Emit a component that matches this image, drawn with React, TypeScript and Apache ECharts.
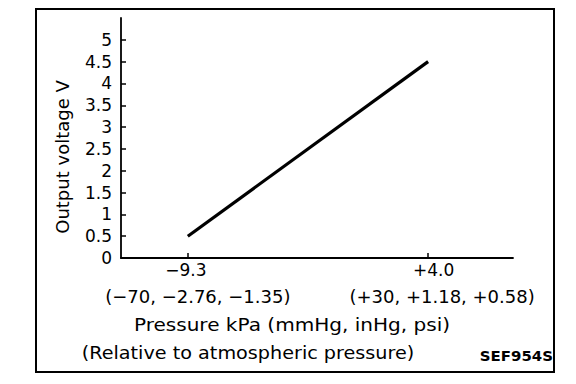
import React, { useEffect, useRef } from "react";
import * as echarts from "echarts";

const yTickValues = [0, 0.5, 1, 1.5, 2, 2.5, 3, 3.5, 4, 4.5, 5];
const xTickValues = [-9.3, 4.0];
const xTickMain = ["−9.3", "+4.0"];
const xTickSub = ["(−70, −2.76, −1.35)", "(+30, +1.18, +0.58)"];
const pressureKPa = [-9.3, 4.0];
const outputVoltage = [0.5, 4.5];
const yAxisTitle = "Output voltage V";
const xAxisTitle = "Pressure kPa (mmHg, inHg, psi)";
const xAxisNote = "(Relative to atmospheric pressure)";
const figureCode = "SEF954S";

const FONT = "DejaVu Sans";

export default function App() {
  const ref = useRef<HTMLDivElement>(null);
  useEffect(() => {
    if (!ref.current) return;
    const chart = echarts.init(ref.current, undefined, { renderer: "svg" });
    const lineData = pressureKPa.map((x, i) => [x, outputVoltage[i]]);
    chart.setOption({
      animation: false,
      backgroundColor: "#ffffff",
      textStyle: { fontFamily: FONT, color: "#000" },
      grid: { left: 121, right: 63, top: 18, bottom: 126, containLabel: false },
      xAxis: {
        type: "value",
        min: -13,
        max: 8.7,
        splitLine: { show: false },
        axisLine: { show: true, onZero: false, lineStyle: { color: "#000", width: 1.8 } },
        axisTick: {
          show: true,
          inside: true,
          length: 5,
          customValues: xTickValues,
          lineStyle: { color: "#000", width: 1.5 },
        },
        axisLabel: {
          show: true,
          customValues: xTickValues,
          margin: 2,
          color: "#000",
          fontFamily: FONT,
          fontSize: 17,
          formatter: (v: number) => {
            const i = xTickValues.findIndex((t) => Math.abs(t - v) < 1e-6);
            if (i < 0) return "";
            return `{a${i}|${xTickMain[i]}}\n{b${i}|${xTickSub[i]}}`;
          },
          rich: {
            a0: { fontFamily: FONT, fontSize: 17, color: "#000", lineHeight: 20, padding: [0, 4, 0, 0] },
            b0: { fontFamily: FONT, fontSize: 18, color: "#000", lineHeight: 32, padding: [0, 0, 0, 20] },
            a1: { fontFamily: FONT, fontSize: 17, color: "#000", lineHeight: 20, padding: [0, 0, 0, 11] },
            b1: { fontFamily: FONT, fontSize: 18, color: "#000", lineHeight: 32, padding: [0, 0, 0, 28] },
          },
        },
      },
      yAxis: {
        type: "value",
        min: 0,
        max: 5.5,
        splitLine: { show: false },
        axisLine: { show: true, onZero: false, lineStyle: { color: "#000", width: 1.8 } },
        axisTick: {
          show: true,
          inside: true,
          length: 5,
          customValues: yTickValues,
          lineStyle: { color: "#000", width: 1.5 },
        },
        axisLabel: {
          show: true,
          customValues: yTickValues,
          margin: 9,
          color: "#000",
          fontFamily: FONT,
          fontSize: 17,
          formatter: (v: number) => String(v),
        },
      },
      series: [
        {
          type: "line",
          data: lineData,
          symbol: "none",
          lineStyle: { color: "#000", width: 3.2 },
        },
      ],
      graphic: [
        {
          type: "rect",
          shape: { x: 36, y: 9, width: 518, height: 363 },
          style: { fill: "none", stroke: "#000", lineWidth: 2 },
          silent: true,
        },
        {
          type: "text",
          x: 62,
          y: 157,
          rotation: Math.PI / 2,
          style: {
            text: yAxisTitle,
            fontFamily: FONT,
            fontSize: 18,
            fill: "#000",
            align: "center",
            verticalAlign: "middle",
          },
        },
        {
          type: "text",
          x: 292,
          y: 325,
          scaleX: 1.18,
          style: {
            text: xAxisTitle,
            fontFamily: FONT,
            fontSize: 17,
            fill: "#000",
            align: "center",
            verticalAlign: "middle",
          },
        },
        {
          type: "text",
          x: 248,
          y: 353,
          scaleX: 1.13,
          style: {
            text: xAxisNote,
            fontFamily: FONT,
            fontSize: 17,
            fill: "#000",
            align: "center",
            verticalAlign: "middle",
          },
        },
        {
          type: "text",
          x: 553,
          y: 356,
          scaleX: 1.07,
          style: {
            text: figureCode,
            fontFamily: FONT,
            fontSize: 14,
            fontWeight: "bold",
            fill: "#000",
            align: "right",
            verticalAlign: "middle",
          },
        },
      ],
    });
    return () => chart.dispose();
  }, []);
  return (
    <div
      ref={ref}
      style={{ position: "absolute", left: 0, top: 0, width: 576, height: 384 }}
    />
  );
}
